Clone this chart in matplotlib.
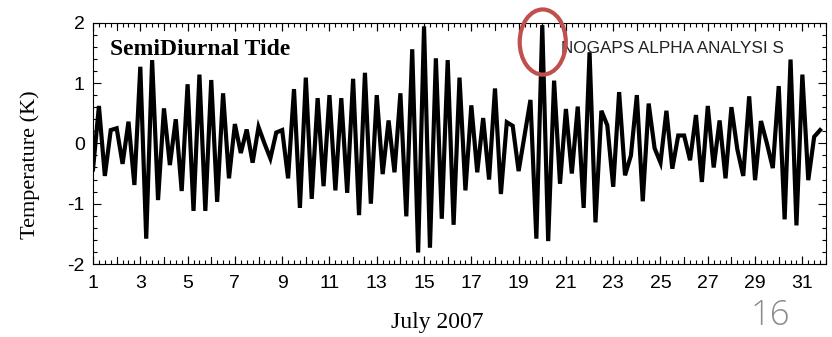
import matplotlib
matplotlib.use("Agg")
import matplotlib.pyplot as plt
import numpy as np
from matplotlib.patches import Ellipse
from matplotlib.ticker import MultipleLocator

# semidiurnal tide temperature, 6-hourly from 1 July 2007 00Z
start_day = 1.0
step_days = 0.25
temp_k = [
    -0.43, 0.62, -0.54, 0.22, 0.25, -0.34, 0.36, -0.69, 1.27, -1.58,
    1.38, -0.94, 0.58, -0.36, 0.40, -0.79, 0.98, -1.12, 1.14, -1.12,
    1.05, -0.97, 0.83, -0.58, 0.32, -0.16, 0.23, -0.32, 0.27, 0.00,
    -0.25, 0.18, 0.22, -0.58, 0.90, -1.07, 1.09, -0.92, 0.75, -0.71,
    0.80, -0.78, 0.75, -0.82, 1.07, -1.19, 1.17, -1.00, 0.80, -0.51,
    0.38, -0.48, 0.83, -1.21, 1.56, -1.81, 1.94, -1.73, 1.41, -1.25,
    1.38, -1.35, 1.09, -0.78, 0.63, -0.48, 0.42, -0.60, 0.91, -0.84,
    0.35, 0.29, -0.46, 0.13, 0.72, -1.58, 1.96, -1.62, 1.04, -0.67,
    0.57, -0.50, 0.61, -1.07, 1.51, -1.31, 0.54, 0.30, -0.72, 0.85,
    -0.53, -0.20, 0.80, -0.96, 0.66, -0.08, -0.32, 0.54, -0.42, 0.13,
    0.13, -0.28, 0.47, -0.64, 0.62, -0.40, 0.38, -0.58, 0.60, -0.10,
    -0.54, 0.78, -0.61, 0.37, 0.00, -0.41, 0.95, -1.26, 1.39, -1.36,
    1.14, -0.61, 0.11, 0.22,
]
day_ticks = [1, 3, 5, 7, 9, 11, 13, 15, 17, 19, 21, 23, 25, 27, 29, 31]
temp_ticks = [-2, -1, 0, 1, 2]

days = start_day + step_days * np.arange(len(temp_k))

plt.rcParams["axes.unicode_minus"] = False
tick_font = "Liberation Sans"
serif = "Liberation Serif"

fig = plt.figure(figsize=(8.32, 3.37), dpi=100)
ax = fig.add_axes([0.1118, 0.2166, 0.8810, 0.7160])

ax.plot(days, temp_k, color="black", lw=3.0, solid_joinstyle="miter")

ax.set_xlim(1, 32)
ax.set_ylim(-2, 2)
ax.set_xticks(day_ticks)
ax.xaxis.set_minor_locator(MultipleLocator(0.25))
ax.set_yticks(temp_ticks)
ax.yaxis.set_minor_locator(MultipleLocator(0.2))

# long ticks at every day without label
for d in range(1, 33):
    ax.axvline(d, ymin=0, ymax=0.03, color="black", lw=0.8)
    ax.axvline(d, ymin=0.97, ymax=1.0, color="black", lw=0.8)

ax.tick_params(which="both", direction="in", top=True, right=True, width=0.8)
ax.tick_params(which="major", length=6)
ax.tick_params(which="minor", length=3)
ax.tick_params(axis="x", pad=8)
ax.tick_params(axis="y", pad=6)
for lab in ax.get_xticklabels() + ax.get_yticklabels():
    lab.set_fontfamily([tick_font, "DejaVu Sans"])
    lab.set_fontsize(14)
for s in ax.spines.values():
    s.set_linewidth(0.8)

ax.set_xlabel("July 2007", fontfamily=serif, fontsize=17)
ax.set_ylabel("Temperature (K)", fontfamily=serif, fontsize=16)
ax.xaxis.set_label_coords(0.47, -0.2)
ax.yaxis.set_label_coords(-0.073, 0.41)

ax.text(0.023, 0.89, "SemiDiurnal Tide", transform=ax.transAxes,
        fontfamily=serif, fontweight="bold", fontsize=17, va="center")
ax.text(0.639, 0.895, "NOGAPS ALPHA ANALYSI S", transform=ax.transAxes,
        fontfamily="Liberation Sans", fontsize=12.3, va="center", color="#222222")

# red highlight around the peak on day 20
ell = Ellipse((20.02, 1.68), width=1.95, height=1.08, fill=False,
              edgecolor="#c0504d", lw=3, clip_on=False, zorder=5)
ax.add_patch(ell)

fig.text(0.926, 0.064, "16", fontfamily="Open Sans", fontsize=25,
         color="#8c8c8c", ha="center", va="center", fontweight="light")

fig.savefig("out.png", dpi=100)
